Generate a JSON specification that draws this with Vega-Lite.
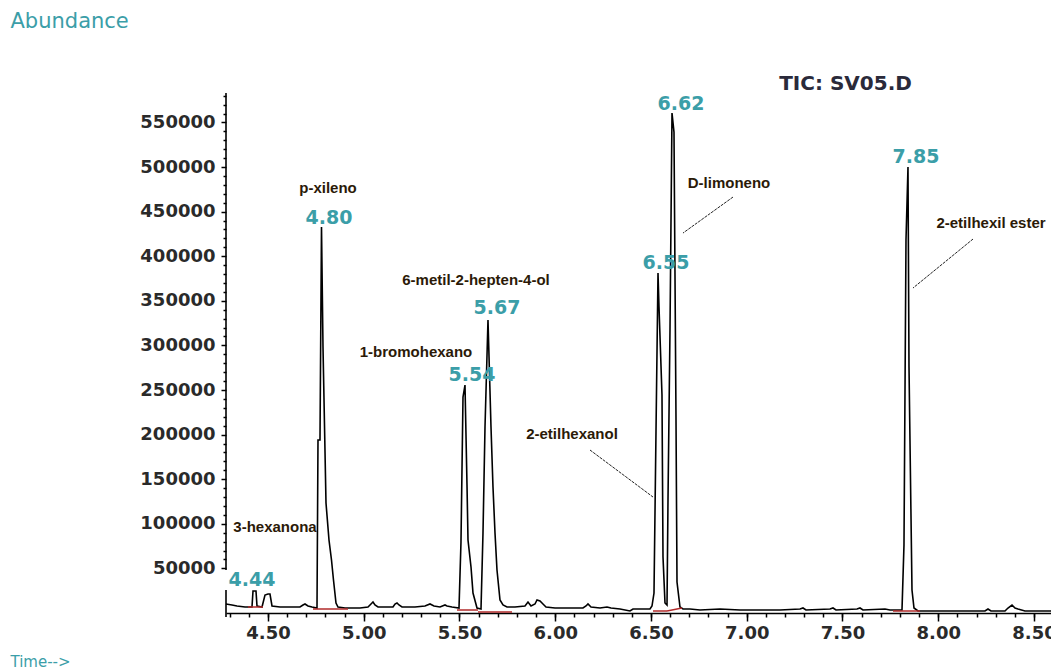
{
  "$schema": "https://vega.github.io/schema/vega-lite/v6.json",
  "width": 825,
  "height": 520,
  "autosize": {"type": "none"},
  "padding": {"left": 226, "top": 93, "right": 0, "bottom": 57},
  "background": "white",
  "config": {"view": {"stroke": null}},
  "resolve": {"axis": {"x": "independent", "y": "independent"}},
  "datasets": {
    "trace": [
      {"t":4.2807,"a":10090},{"t":4.3120,"a":8970},{"t":4.3381,"a":7850},{"t":4.3799,"a":6730},
      {"t":4.4164,"a":6730},{"t":4.4217,"a":24660},{"t":4.4373,"a":24660},{"t":4.4426,"a":7850},
      {"t":4.4687,"a":6730},{"t":4.4843,"a":20180},{"t":4.5000,"a":21300},{"t":4.5104,"a":21300},
      {"t":4.5209,"a":7850},{"t":4.5627,"a":6730},{"t":4.6149,"a":6730},{"t":4.6671,"a":6730},
      {"t":4.6828,"a":8970},{"t":4.6932,"a":10090},{"t":4.7089,"a":7850},{"t":4.7298,"a":6730},
      {"t":4.7559,"a":5600},{"t":4.7611,"a":193930},{"t":4.7715,"a":193930},{"t":4.7794,"a":432710},
      {"t":4.7872,"a":298190},{"t":4.8029,"a":123310},{"t":4.8185,"a":81830},{"t":4.8316,"a":59410},
      {"t":4.8420,"a":36990},{"t":4.8551,"a":11210},{"t":4.8655,"a":6730},{"t":4.9021,"a":5600},
      {"t":4.9804,"a":5600},{"t":5.0222,"a":6730},{"t":5.0379,"a":10090},{"t":5.0483,"a":12330},
      {"t":5.0587,"a":8970},{"t":5.0744,"a":6730},{"t":5.1110,"a":6730},{"t":5.1527,"a":6730},
      {"t":5.1632,"a":10090},{"t":5.1736,"a":11210},{"t":5.1841,"a":8970},{"t":5.1997,"a":6730},
      {"t":5.2676,"a":6730},{"t":5.3198,"a":7850},{"t":5.3460,"a":10090},{"t":5.3668,"a":7850},
      {"t":5.3982,"a":6730},{"t":5.4243,"a":8970},{"t":5.4347,"a":7850},{"t":5.4608,"a":6730},
      {"t":5.4974,"a":5600},{"t":5.5078,"a":79590},{"t":5.5183,"a":242140},{"t":5.5287,"a":255590},
      {"t":5.5392,"a":143490},{"t":5.5444,"a":81830},{"t":5.5601,"a":51570},{"t":5.5705,"a":22420},
      {"t":5.5914,"a":5600},{"t":5.6123,"a":4480},{"t":5.6227,"a":89680},{"t":5.6332,"a":208510},
      {"t":5.6488,"a":328450},{"t":5.6645,"a":208510},{"t":5.6749,"a":141250},{"t":5.6854,"a":89680},
      {"t":5.6958,"a":48200},{"t":5.7115,"a":14570},{"t":5.7272,"a":8970},{"t":5.7480,"a":6730},
      {"t":5.7898,"a":6730},{"t":5.8420,"a":7850},{"t":5.8577,"a":12330},{"t":5.8734,"a":7850},
      {"t":5.8942,"a":10090},{"t":5.9047,"a":14570},{"t":5.9204,"a":13450},{"t":5.9360,"a":10090},
      {"t":5.9517,"a":6730},{"t":5.9987,"a":5600},{"t":6.0770,"a":5600},{"t":6.1449,"a":5600},
      {"t":6.1606,"a":7850},{"t":6.1710,"a":10090},{"t":6.1867,"a":6730},{"t":6.2337,"a":5600},
      {"t":6.2702,"a":6730},{"t":6.2911,"a":5600},{"t":6.3381,"a":4480},{"t":6.3903,"a":2240},
      {"t":6.4060,"a":4480},{"t":6.4426,"a":4480},{"t":6.4948,"a":4480},{"t":6.5052,"a":7850},
      {"t":6.5157,"a":22420},{"t":6.5261,"a":202900},{"t":6.5366,"a":381140},{"t":6.5418,"a":343030},
      {"t":6.5574,"a":244380},{"t":6.5627,"a":62780},{"t":6.5731,"a":11210},{"t":6.5836,"a":8970},
      {"t":6.5888,"a":126670},{"t":6.5992,"a":317240},{"t":6.6097,"a":560500},{"t":6.6201,"a":539200},
      {"t":6.6305,"a":219720},{"t":6.6358,"a":34750},{"t":6.6514,"a":6730},{"t":6.6671,"a":4480},
      {"t":6.7036,"a":4480},{"t":6.7559,"a":3360},{"t":6.8603,"a":4480},{"t":6.9647,"a":3360},
      {"t":7.0692,"a":3360},{"t":7.1736,"a":3360},{"t":7.2781,"a":4480},{"t":7.2937,"a":5600},
      {"t":7.3094,"a":3360},{"t":7.4347,"a":4480},{"t":7.4504,"a":5600},{"t":7.4661,"a":3360},
      {"t":7.5757,"a":4480},{"t":7.5914,"a":5600},{"t":7.6070,"a":3360},{"t":7.7219,"a":4480},
      {"t":7.7480,"a":3360},{"t":7.8107,"a":3360},{"t":7.8211,"a":76230},{"t":7.8316,"a":418130},
      {"t":7.8420,"a":499970},{"t":7.8473,"a":275770},{"t":7.8629,"a":25780},{"t":7.8734,"a":5600},
      {"t":7.8943,"a":2240},{"t":8.0091,"a":2240},{"t":8.1136,"a":2240},{"t":8.2441,"a":2240},
      {"t":8.2598,"a":4480},{"t":8.2755,"a":2240},{"t":8.3485,"a":2240},{"t":8.3642,"a":5600},
      {"t":8.3851,"a":8970},{"t":8.4008,"a":5600},{"t":8.4164,"a":4480},{"t":8.4530,"a":2240},
      {"t":8.5313,"a":2240},{"t":8.5888,"a":2240}
    ],
    "baselines": [
      {"t1":4.3956,"t2":4.4739,"a1":6730,"a2":6730},
      {"t1":4.7350,"t2":4.9178,"a1":4480,"a2":4480},
      {"t1":5.4869,"t2":5.5966,"a1":3360,"a2":3360},
      {"t1":5.5966,"t2":5.7742,"a1":1120,"a2":1120},
      {"t1":6.5104,"t2":6.5836,"a1":2240,"a2":2240},
      {"t1":6.5836,"t2":6.6619,"a1":2240,"a2":5600},
      {"t1":7.7637,"t2":7.9047,"a1":2240,"a2":2240}
    ],
    "leaders": [
      {"t1":6.9282,"a1":466340,"t2":6.6671,"a2":425980},
      {"t1":8.1815,"a1":419250,"t2":7.8681,"a2":364330},
      {"t1":6.1815,"a1":182720,"t2":6.5104,"a2":130040}
    ],
    "yaxisline": [
      {"t":4.2807,"a1":48200,"a2":583000},
      {"t":4.2807,"a1":-4480,"a2":25780}
    ],
    "rts": [
      {"rt":"4.44","t":4.4164,"a":36990},
      {"rt":"4.80","t":4.8185,"a":442800},
      {"rt":"5.54","t":5.5653,"a":266800},
      {"rt":"5.67","t":5.6958,"a":341900},
      {"rt":"6.55","t":6.5783,"a":392350},
      {"rt":"6.62","t":6.6567,"a":570590},
      {"rt":"7.85","t":7.8838,"a":511180}
    ],
    "compounds": [
      {"name":"p-xileno","t":4.8133,"a":476430},
      {"name":"6-metil-2-hepten-4-ol","t":5.5862,"a":373290},
      {"name":"1-bromohexano","t":5.2728,"a":292580},
      {"name":"3-hexanona","t":4.5366,"a":96410},
      {"name":"2-etilhexanol","t":6.0875,"a":200660},
      {"name":"D-limoneno","t":6.9073,"a":482030},
      {"name":"2-etilhexil ester","t":8.2755,"a":437190}
    ],
    "header": [
      {"label":"TIC: SV05.D","t":7.5157,"a":593010}
    ]
  },
  "layer": [
    {
      "data": {"name": "trace"},
      "mark": {"type": "line", "color": "black", "strokeWidth": 1.6, "interpolate": "linear"},
      "encoding": {
        "x": {
          "field": "t", "type": "quantitative",
          "scale": {"domain": [4.2807, 8.5888], "nice": false, "zero": false},
          "axis": {
            "orient": "bottom",
            "values": [4.3,4.4,4.5,4.6,4.7,4.8,4.9,5.0,5.1,5.2,5.3,5.4,5.5,5.6,5.7,5.8,5.9,6.0,6.1,6.2,6.3,6.4,6.5,6.6,6.7,6.8,6.9,7.0,7.1,7.2,7.3,7.4,7.5,7.6,7.7,7.8,7.9,8.0,8.1,8.2,8.3,8.4,8.5],
            "labels": false, "tickSize": 4, "tickColor": "black", "tickWidth": 1.5,
            "domainColor": "black", "domainWidth": 1.6, "grid": false, "title": null
          }
        },
        "y": {
          "field": "a", "type": "quantitative",
          "scale": {"domain": [0, 583000], "nice": false, "zero": false},
          "axis": {
            "orient": "left",
            "values": [60000,70000,80000,90000,110000,120000,130000,140000,160000,170000,180000,190000,210000,220000,230000,240000,260000,270000,280000,290000,310000,320000,330000,340000,360000,370000,380000,390000,410000,420000,430000,440000,460000,470000,480000,490000,510000,520000,530000,540000,560000,570000,580000],
            "labels": false, "tickSize": 3, "tickColor": "black", "tickWidth": 1.5,
            "domain": false, "grid": false, "title": null
          }
        }
      }
    },
    {
      "data": {"name": "baselines"},
      "mark": {"type": "rule", "color": "#b02a2a", "strokeWidth": 1.5},
      "encoding": {
        "x": {
          "field": "t1", "type": "quantitative",
          "scale": {"domain": [4.2807, 8.5888], "nice": false, "zero": false},
          "axis": {
            "orient": "bottom",
            "values": [4.5,5.0,5.5,6.0,6.5,7.0,7.5,8.0,8.5],
            "format": ".2f", "tickSize": 8, "tickColor": "black", "tickWidth": 1.5,
            "domain": false, "grid": false,
            "labelFont": "DejaVu Sans", "labelFontSize": 18, "labelFontWeight": "bold", "labelColor": "#2a2a2a",
            "labelPadding": 3, "labelFlush": false, "labelOverlap": false,
            "title": "Time-->", "titleFont": "DejaVu Sans", "titleFontSize": 15, "titleFontWeight": "normal",
            "titleColor": "#3b9ea8", "titleAlign": "left", "titleBaseline": "middle", "titleAnchor": "start",
            "titleX": -216, "titleY": 48
          }
        },
        "x2": {"field": "t2"},
        "y": {
          "field": "a1", "type": "quantitative",
          "scale": {"domain": [0, 583000], "nice": false, "zero": false},
          "axis": {
            "orient": "left",
            "values": [50000,100000,150000,200000,250000,300000,350000,400000,450000,500000,550000],
            "format": "d", "tickSize": 5, "tickColor": "black", "tickWidth": 1.5,
            "domain": false, "grid": false,
            "labelFont": "DejaVu Sans", "labelFontSize": 18, "labelFontWeight": "bold", "labelColor": "#2a2a2a",
            "labelPadding": 6, "labelOverlap": false, "labelBaseline": "middle",
            "title": "Abundance", "titleFont": "DejaVu Sans", "titleFontSize": 21, "titleFontWeight": "normal",
            "titleColor": "#3b9ea8", "titleAngle": 0, "titleAlign": "left", "titleBaseline": "middle",
            "titleAnchor": "start", "titleX": -216, "titleY": -72
          }
        },
        "y2": {"field": "a2"}
      }
    },
    {
      "data": {"name": "leaders"},
      "mark": {"type": "rule", "color": "#222222", "strokeWidth": 1, "strokeDash": [3, 1]},
      "encoding": {
        "x": {"field": "t1", "type": "quantitative", "axis": null},
        "x2": {"field": "t2"},
        "y": {"field": "a1", "type": "quantitative", "axis": null},
        "y2": {"field": "a2"}
      }
    },
    {
      "data": {"name": "yaxisline"},
      "mark": {"type": "rule", "color": "black", "strokeWidth": 1.6},
      "encoding": {
        "x": {"field": "t", "type": "quantitative", "axis": null},
        "y": {"field": "a1", "type": "quantitative", "axis": null},
        "y2": {"field": "a2"}
      }
    },
    {
      "data": {"name": "rts"},
      "mark": {"type": "text", "font": "DejaVu Sans", "fontSize": 19, "fontWeight": "bold", "color": "#3b9ea8", "align": "center", "baseline": "middle"},
      "encoding": {
        "x": {"field": "t", "type": "quantitative", "axis": null},
        "y": {"field": "a", "type": "quantitative", "axis": null},
        "text": {"field": "rt"}
      }
    },
    {
      "data": {"name": "compounds"},
      "mark": {"type": "text", "font": "Liberation Sans", "fontSize": 15, "fontWeight": "bold", "color": "#2b1a08", "align": "center", "baseline": "middle"},
      "encoding": {
        "x": {"field": "t", "type": "quantitative", "axis": null},
        "y": {"field": "a", "type": "quantitative", "axis": null},
        "text": {"field": "name"}
      }
    },
    {
      "data": {"name": "header"},
      "mark": {"type": "text", "font": "DejaVu Sans", "fontSize": 20, "fontWeight": "bold", "color": "#2a2a3a", "align": "center", "baseline": "middle"},
      "encoding": {
        "x": {"field": "t", "type": "quantitative", "axis": null},
        "y": {"field": "a", "type": "quantitative", "axis": null},
        "text": {"field": "label"}
      }
    }
  ]
}
